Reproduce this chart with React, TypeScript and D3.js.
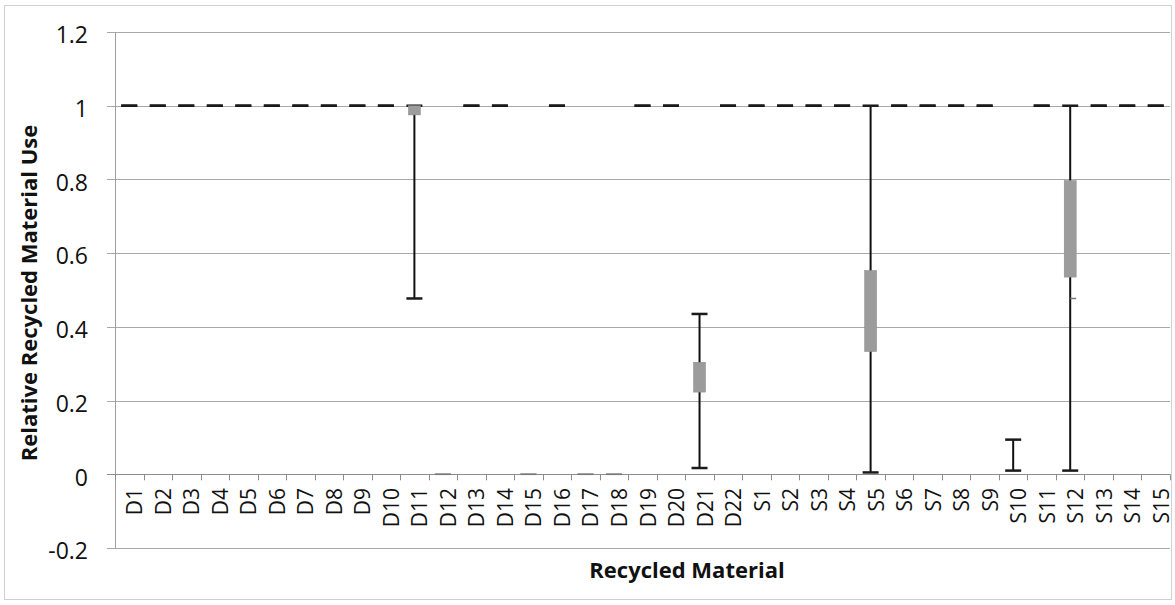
import React from "react";
import * as d3 from "d3";

const categories = [
  "D1","D2","D3","D4","D5","D6","D7","D8","D9","D10","D11","D12","D13","D14","D15","D16","D17","D18","D19","D20","D21","D22",
  "S1","S2","S3","S4","S5","S6","S7","S8","S9","S10","S11","S12","S13","S14","S15",
];
// whisker high / low
const highVals = [
  1,1,1,1,1,1,1,1,1,1,1,0,1,1,0,1,0,0,1,1,0.435,1,
  1,1,1,1,1,1,1,1,1,0.094,1,1,1,1,1,
];
const lowVals = [
  1,1,1,1,1,1,1,1,1,1,0.477,0,1,1,0,1,0,0,1,1,0.017,1,
  1,1,1,1,0.005,1,1,1,1,0.01,1,0.01,1,1,1,
];
// box upper / lower (null = no box)
const boxTop: (number | null)[] = [
  null,null,null,null,null,null,null,null,null,null,1.0,null,null,null,null,null,null,null,null,null,0.304,null,
  null,null,null,null,0.553,null,null,null,null,null,null,0.797,null,null,null,
];
const boxBottom: (number | null)[] = [
  null,null,null,null,null,null,null,null,null,null,0.975,null,null,null,null,null,null,null,null,null,0.223,null,
  null,null,null,null,0.333,null,null,null,null,null,null,0.535,null,null,null,
];
// small side marker
const markerVals: (number | null)[] = [
  null,null,null,null,null,null,null,null,null,null,null,null,null,null,null,null,null,null,null,null,null,null,
  null,null,null,null,null,null,null,null,null,null,null,0.477,null,null,null,
];
const yTicks = [-0.2, 0, 0.2, 0.4, 0.6, 0.8, 1, 1.2];
const yTickLabels = ["-0.2", "0", "0.2", "0.4", "0.6", "0.8", "1", "1.2"];

const W = 1175;
const H = 605;
const left = 115;
const right = 1170;
const top = 32;
const bottom = 548;

export default function App() {
  const x = d3.scaleBand<string>().domain(categories).range([left, right]).padding(0);
  const y = d3.scaleLinear().domain([-0.2, 1.2]).range([bottom, top]);
  const bw = x.bandwidth();
  const font = "'Open Sans', sans-serif";
  const capW = 16;
  const boxW = 12;

  return (
    <svg
      width={W}
      height={H}
      style={{ position: "absolute", left: 0, top: 0, background: "#fff" }}
    >
      <rect x={4.5} y={5.5} width={1167} height={594} fill="#fff" stroke="#d0d0d0" strokeWidth={1} />
      {/* gridlines */}
      {yTicks.map((t, i) => (
        <line
          key={"g" + i}
          x1={left - 8}
          x2={right}
          y1={Math.round(y(t)) + 0.5}
          y2={Math.round(y(t)) + 0.5}
          stroke={t === 0 ? "#8c8c8c" : "#a8a8a8"}
          strokeWidth={1}
        />
      ))}
      {/* y axis line */}
      <line x1={left + 0.5} x2={left + 0.5} y1={top} y2={bottom} stroke="#a0a0a0" strokeWidth={1} />
      {/* y labels */}
      {yTicks.map((t, i) => (
        <text
          key={"yl" + i}
          x={88}
          y={y(t) + 3}
          dy="0.36em"
          textAnchor="end"
          fontFamily={font}
          fontSize={23}
          fill="#111"
        >
          {yTickLabels[i]}
        </text>
      ))}
      {/* x ticks */}
      {categories.concat([""]).map((c, i) => {
        const xx = Math.round(left + i * bw) + 0.5;
        return (
          <line key={"xt" + i} x1={xx} x2={xx} y1={y(0)} y2={y(0) + 6} stroke="#8c8c8c" strokeWidth={1} />
        );
      })}
      {/* x labels */}
      {categories.map((c) => {
        const cx = (x(c) as number) + bw / 2 + 5;
        const ty = 488;
        return (
          <text
            key={"xl" + c}
            transform={`translate(${cx},${ty}) rotate(-90)`}
            textAnchor="end"
            dominantBaseline="central"
            fontFamily={font}
            fontSize={21}
            fill="#111"
          >
            {c}
          </text>
        );
      })}
      {/* whiskers */}
      {categories.map((c, i) => {
        const cx = (x(c) as number) + bw / 2;
        const hi = y(highVals[i]);
        const lo = y(lowVals[i]);
        const zero = highVals[i] === 0 && lowVals[i] === 0;
        const capColor = zero ? "#7a7a7a" : "#1a1a1a";
        return (
          <g key={"w" + c}>
            {hi !== lo && (
              <line x1={cx} x2={cx} y1={hi} y2={lo} stroke="#111" strokeWidth={2} />
            )}
            <line x1={cx - capW / 2} x2={cx + capW / 2} y1={hi} y2={hi} stroke={capColor} strokeWidth={zero ? 1.5 : 2.5} />
            <line x1={cx - capW / 2} x2={cx + capW / 2} y1={lo} y2={lo} stroke={capColor} strokeWidth={zero ? 1.5 : 2.5} />
          </g>
        );
      })}
      {/* boxes */}
      {categories.map((c, i) => {
        const t = boxTop[i];
        const b = boxBottom[i];
        if (t == null || b == null) return null;
        const cx = (x(c) as number) + bw / 2;
        return (
          <rect
            key={"b" + c}
            x={cx - boxW / 2}
            y={y(t)}
            width={boxW}
            height={y(b) - y(t)}
            fill="#9c9c9c"
            stroke="#8a8a8a"
            strokeWidth={0.5}
          />
        );
      })}
      {/* side markers */}
      {categories.map((c, i) => {
        const m = markerVals[i];
        if (m == null) return null;
        const cx = (x(c) as number) + bw / 2;
        return <line key={"m" + c} x1={cx} x2={cx + 6} y1={y(m)} y2={y(m)} stroke="#777" strokeWidth={1.5} />;
      })}
      {/* axis titles */}
      <text
        x={687}
        y={578}
        textAnchor="middle"
        fontFamily={font}
        fontWeight="bold"
        fontSize={22}
        fill="#111"
      >
        Recycled Material
      </text>
      <text
        transform={`translate(28,${(top + bottom) / 2 + 3}) rotate(-90)`}
        textAnchor="middle"
        dominantBaseline="central"
        fontFamily={font}
        fontWeight="bold"
        fontSize={22}
        fill="#111"
      >
        Relative Recycled Material Use
      </text>
    </svg>
  );
}
